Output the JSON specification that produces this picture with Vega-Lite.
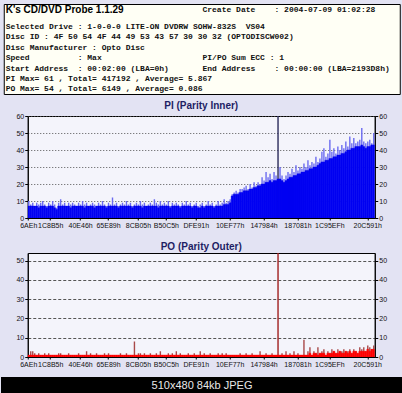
{
  "$schema": "https://vega.github.io/schema/vega-lite/v6.json",
  "background": "#E3E3F3",
  "padding": {"left": 0, "top": 3, "right": 0, "bottom": 0},
  "columns": 1,
  "center": true,
  "spacing": 5,
  "config": {
    "view": {"stroke": "#000", "fill": "#F4F4FB", "strokeWidth": 1},
    "axis": {"labelFont": "Liberation Sans", "labelFontSize": 7, "labelColor": "#111", "tickColor": "#000", "domainColor": "#000", "tickSize": 3, "labelPadding": 1},
    "title": {"font": "Liberation Sans", "fontSize": 10, "fontWeight": "bold", "color": "#1E1E64", "offset": 1, "anchor": "middle"}
  },
  "datasets": {
    "hdr": [
      {"line": 0, "part": "title", "text": "K's CD/DVD Probe 1.1.29"},
      {"line": 0, "part": "top", "text": "Create Date\u00a0\u00a0\u00a0\u00a0: 2004-07-09 01:02:28"},
      {"line": 1, "part": "info", "text": "Selected Drive : 1-0-0-0 LITE-ON DVDRW SOHW-832S\u00a0\u00a0VS04"},
      {"line": 2, "part": "info", "text": "Disc ID : 4F 50 54 4F 44 49 53 43 57 30 30 32 (OPTODISCW002)"},
      {"line": 3, "part": "info", "text": "Disc Manufacturer : Opto Disc"},
      {"line": 4, "part": "info", "text": "Speed\u00a0\u00a0\u00a0\u00a0\u00a0\u00a0\u00a0\u00a0\u00a0\u00a0: Max\u00a0\u00a0\u00a0\u00a0\u00a0\u00a0\u00a0\u00a0\u00a0\u00a0\u00a0\u00a0\u00a0\u00a0\u00a0\u00a0\u00a0\u00a0\u00a0\u00a0\u00a0PI/PO Sum ECC : 1"},
      {"line": 5, "part": "info", "text": "Start Address\u00a0\u00a0: 00:02:00 (LBA=0h)\u00a0\u00a0\u00a0\u00a0\u00a0\u00a0\u00a0End Address\u00a0\u00a0\u00a0\u00a0: 00:00:00 (LBA=2193D8h)"},
      {"line": 6, "part": "info", "text": "PI Max= 61 , Total= 417192 , Average= 5.867"},
      {"line": 7, "part": "info", "text": "PO Max= 54 , Total= 6149 , Average= 0.086"}
    ],
    "d": [
      {"s":0,"pi":10,"pib":7,"po":1,"pob":1},{"s":1,"pi":8,"pib":7,"po":3,"pob":1},{"s":2,"pi":9,"pib":7,"po":3,"pob":1},{"s":3,"pi":7,"pib":7,"po":2,"pob":1},{"s":4,"pi":9,"pib":7,"po":1,"pob":1},
      {"s":5,"pi":8,"pib":6,"po":2,"pob":1},{"s":6,"pi":9,"pib":7,"po":1,"pob":1},{"s":7,"pi":10,"pib":7,"po":1,"pob":1},{"s":8,"pi":8,"pib":7,"po":2,"pob":1},{"s":9,"pi":7,"pib":6,"po":1,"pob":1},
      {"s":10,"pi":9,"pib":7,"po":2,"pob":1},{"s":11,"pi":8,"pib":7,"po":1,"pob":1},{"s":12,"pi":10,"pib":7,"po":1,"pob":1},{"s":13,"pi":8,"pib":6,"po":1,"pob":1},{"s":14,"pi":6,"pib":5,"po":1,"pob":1},
      {"s":15,"pi":9,"pib":7,"po":2,"pob":1},{"s":16,"pi":11,"pib":7,"po":2,"pob":1},{"s":17,"pi":8,"pib":7,"po":1,"pob":1},{"s":18,"pi":9,"pib":7,"po":1,"pob":1},{"s":19,"pi":7,"pib":7,"po":1,"pob":1},
      {"s":20,"pi":9,"pib":7,"po":2,"pob":1},{"s":21,"pi":8,"pib":6,"po":1,"pob":1},{"s":22,"pi":9,"pib":7,"po":1,"pob":1},{"s":23,"pi":8,"pib":7,"po":1,"pob":1},{"s":24,"pi":7,"pib":7,"po":1,"pob":1},
      {"s":25,"pi":9,"pib":7,"po":2,"pob":1},{"s":26,"pi":8,"pib":7,"po":1,"pob":1},{"s":27,"pi":10,"pib":7,"po":1,"pob":1},{"s":28,"pi":8,"pib":6,"po":1,"pob":1},{"s":29,"pi":9,"pib":7,"po":3,"pob":1},
      {"s":30,"pi":7,"pib":7,"po":1,"pob":1},{"s":31,"pi":8,"pib":7,"po":2,"pob":1},{"s":32,"pi":9,"pib":7,"po":1,"pob":1},{"s":33,"pi":8,"pib":6,"po":1,"pob":1},{"s":34,"pi":7,"pib":7,"po":2,"pob":1},
      {"s":35,"pi":9,"pib":7,"po":1,"pob":1},{"s":36,"pi":8,"pib":7,"po":1,"pob":1},{"s":37,"pi":10,"pib":7,"po":1,"pob":1},{"s":38,"pi":8,"pib":7,"po":2,"pob":1},{"s":39,"pi":7,"pib":6,"po":1,"pob":1},
      {"s":40,"pi":9,"pib":7,"po":2,"pob":1},{"s":41,"pi":8,"pib":7,"po":1,"pob":1},{"s":42,"pi":12,"pib":7,"po":1,"pob":1},{"s":43,"pi":8,"pib":7,"po":1,"pob":1},{"s":44,"pi":9,"pib":7,"po":1,"pob":1},
      {"s":45,"pi":7,"pib":6,"po":1,"pob":1},{"s":46,"pi":8,"pib":7,"po":2,"pob":1},{"s":47,"pi":9,"pib":7,"po":1,"pob":1},{"s":48,"pi":8,"pib":7,"po":1,"pob":1},{"s":49,"pi":10,"pib":7,"po":2,"pob":1},
      {"s":50,"pi":8,"pib":7,"po":1,"pob":1},{"s":51,"pi":9,"pib":7,"po":1,"pob":1},{"s":52,"pi":7,"pib":6,"po":1,"pob":1},{"s":53,"pi":8,"pib":7,"po":8,"pob":1},{"s":54,"pi":9,"pib":7,"po":1,"pob":1},
      {"s":55,"pi":8,"pib":7,"po":2,"pob":1},{"s":56,"pi":10,"pib":7,"po":2,"pob":1},{"s":57,"pi":8,"pib":6,"po":1,"pob":1},{"s":58,"pi":9,"pib":7,"po":2,"pob":1},{"s":59,"pi":7,"pib":7,"po":1,"pob":1},
      {"s":60,"pi":8,"pib":7,"po":1,"pob":1},{"s":61,"pi":9,"pib":7,"po":2,"pob":1},{"s":62,"pi":8,"pib":7,"po":1,"pob":1},{"s":63,"pi":11,"pib":7,"po":1,"pob":1},{"s":64,"pi":9,"pib":7,"po":2,"pob":1},
      {"s":65,"pi":8,"pib":6,"po":1,"pob":1},{"s":66,"pi":10,"pib":7,"po":3,"pob":1},{"s":67,"pi":8,"pib":7,"po":1,"pob":1},{"s":68,"pi":9,"pib":7,"po":1,"pob":1},{"s":69,"pi":8,"pib":7,"po":1,"pob":1},
      {"s":70,"pi":10,"pib":7,"po":2,"pob":1},{"s":71,"pi":7,"pib":6,"po":1,"pob":1},{"s":72,"pi":9,"pib":7,"po":2,"pob":1},{"s":73,"pi":8,"pib":7,"po":1,"pob":1},{"s":74,"pi":9,"pib":7,"po":3,"pob":1},
      {"s":75,"pi":8,"pib":7,"po":1,"pob":1},{"s":76,"pi":7,"pib":6,"po":2,"pob":1},{"s":77,"pi":9,"pib":7,"po":1,"pob":1},{"s":78,"pi":8,"pib":7,"po":1,"pob":1},{"s":79,"pi":10,"pib":7,"po":1,"pob":1},
      {"s":80,"pi":8,"pib":7,"po":2,"pob":1},{"s":81,"pi":9,"pib":7,"po":1,"pob":1},{"s":82,"pi":7,"pib":6,"po":1,"pob":1},{"s":83,"pi":8,"pib":7,"po":2,"pob":1},{"s":84,"pi":9,"pib":7,"po":1,"pob":1},
      {"s":85,"pi":7,"pib":6,"po":1,"pob":1},{"s":86,"pi":8,"pib":6,"po":3,"pob":1},{"s":87,"pi":9,"pib":7,"po":1,"pob":1},{"s":88,"pi":7,"pib":6,"po":2,"pob":1},{"s":89,"pi":8,"pib":7,"po":1,"pob":1},
      {"s":90,"pi":10,"pib":7,"po":1,"pob":1},{"s":91,"pi":8,"pib":7,"po":2,"pob":1},{"s":92,"pi":9,"pib":7,"po":1,"pob":1},{"s":93,"pi":7,"pib":6,"po":1,"pob":1},{"s":94,"pi":8,"pib":7,"po":1,"pob":1},
      {"s":95,"pi":10,"pib":7,"po":2,"pob":1},{"s":96,"pi":8,"pib":7,"po":1,"pob":1},{"s":97,"pi":9,"pib":7,"po":2,"pob":1},{"s":98,"pi":11,"pib":8,"po":1,"pob":1},{"s":99,"pi":9,"pib":8,"po":2,"pob":1},
      {"s":100,"pi":10,"pib":8,"po":1,"pob":1},{"s":101,"pi":11,"pib":9,"po":1,"pob":1},{"s":102,"pi":14,"pib":13,"po":1,"pob":1},{"s":103,"pi":15,"pib":14,"po":1,"pob":1},{"s":104,"pi":16,"pib":14,"po":1,"pob":1},
      {"s":105,"pi":15,"pib":14,"po":1,"pob":1},{"s":106,"pi":17,"pib":15,"po":2,"pob":1},{"s":107,"pi":17,"pib":15,"po":1,"pob":1},{"s":108,"pi":18,"pib":16,"po":1,"pob":1},{"s":109,"pi":19,"pib":16,"po":2,"pob":1},
      {"s":110,"pi":17,"pib":16,"po":1,"pob":1},{"s":111,"pi":20,"pib":17,"po":1,"pob":1},{"s":112,"pi":18,"pib":17,"po":2,"pob":1},{"s":113,"pi":21,"pib":18,"po":1,"pob":1},{"s":114,"pi":19,"pib":18,"po":1,"pob":1},
      {"s":115,"pi":21,"pib":19,"po":1,"pob":1},{"s":116,"pi":20,"pib":19,"po":3,"pob":1},{"s":117,"pi":24,"pib":20,"po":1,"pob":1},{"s":118,"pi":22,"pib":20,"po":1,"pob":1},{"s":119,"pi":27,"pib":21,"po":2,"pob":1},
      {"s":120,"pi":24,"pib":21,"po":1,"pob":1},{"s":121,"pi":26,"pib":22,"po":1,"pob":1},{"s":122,"pi":23,"pib":21,"po":2,"pob":1},{"s":123,"pi":27,"pib":22,"po":1,"pob":1},{"s":124,"pi":25,"pib":22,"po":1,"pob":1},
      {"s":125,"pi":61,"pib":23,"po":54,"pob":1},{"s":126,"pi":30,"pib":23,"po":1,"pob":1},{"s":127,"pi":25,"pib":22,"po":2,"pob":1},{"s":128,"pi":23,"pib":21,"po":1,"pob":1},{"s":129,"pi":25,"pib":22,"po":3,"pob":1},
      {"s":130,"pi":27,"pib":23,"po":1,"pob":1},{"s":131,"pi":26,"pib":24,"po":2,"pob":1},{"s":132,"pi":29,"pib":24,"po":1,"pob":1},{"s":133,"pi":27,"pib":25,"po":3,"pob":1},{"s":134,"pi":31,"pib":25,"po":1,"pob":1},
      {"s":135,"pi":28,"pib":26,"po":2,"pob":1},{"s":136,"pi":30,"pib":26,"po":1,"pob":1},{"s":137,"pi":29,"pib":27,"po":1,"pob":1},{"s":138,"pi":32,"pib":27,"po":9,"pob":1},{"s":139,"pi":30,"pib":28,"po":1,"pob":1},
      {"s":140,"pi":34,"pib":28,"po":3,"pob":1},{"s":141,"pi":31,"pib":29,"po":5,"pob":2},{"s":142,"pi":33,"pib":29,"po":1,"pob":1},{"s":143,"pi":32,"pib":30,"po":3,"pob":2},{"s":144,"pi":36,"pib":30,"po":2,"pob":2},
      {"s":145,"pi":33,"pib":31,"po":5,"pob":1},{"s":146,"pi":35,"pib":32,"po":2,"pob":2},{"s":147,"pi":39,"pib":33,"po":3,"pob":2},{"s":148,"pi":41,"pib":33,"po":4,"pob":2},{"s":149,"pi":36,"pib":34,"po":1,"pob":1},
      {"s":150,"pi":38,"pib":34,"po":3,"pob":2},{"s":151,"pi":46,"pib":35,"po":2,"pob":2},{"s":152,"pi":39,"pib":35,"po":4,"pob":2},{"s":153,"pi":41,"pib":36,"po":3,"pob":3},{"s":154,"pi":38,"pib":36,"po":2,"pob":2},
      {"s":155,"pi":42,"pib":37,"po":4,"pob":2},{"s":156,"pi":40,"pib":37,"po":3,"pob":3},{"s":157,"pi":43,"pib":38,"po":3,"pob":2},{"s":158,"pi":41,"pib":38,"po":4,"pob":2},{"s":159,"pi":45,"pib":39,"po":3,"pob":3},
      {"s":160,"pi":42,"pib":40,"po":3,"pob":2},{"s":161,"pi":48,"pib":40,"po":4,"pob":3},{"s":162,"pi":44,"pib":41,"po":2,"pob":2},{"s":163,"pi":47,"pib":41,"po":4,"pob":3},{"s":164,"pi":44,"pib":42,"po":3,"pob":3},
      {"s":165,"pi":45,"pib":42,"po":2,"pob":2},{"s":166,"pi":46,"pib":42,"po":5,"pob":3},{"s":167,"pi":53,"pib":43,"po":4,"pob":3},{"s":168,"pi":45,"pib":42,"po":5,"pob":3},{"s":169,"pi":44,"pib":41,"po":3,"pob":3},
      {"s":170,"pi":45,"pib":42,"po":6,"pob":4},{"s":171,"pi":46,"pib":42,"po":5,"pob":3},{"s":172,"pi":44,"pib":43,"po":4,"pob":4},{"s":173,"pi":50,"pib":43,"po":6,"pob":4}
    ]
  },
  "concat": [
    {
      "width": 396,
      "height": 90,
      "view": {"fill": "#FFFFF5", "stroke": "#000", "strokeWidth": 1},
      "data": {"name": "hdr"},
      "encoding": {
        "x": {"datum": 0, "type": "quantitative", "scale": {"domain": [-0.4, 82.1], "nice": false, "zero": false}, "axis": null},
        "y": {"field": "line", "type": "quantitative", "title": null, "scale": {"domain": [-1.2, 7.45], "reverse": true, "nice": false, "zero": false}, "axis": {"orient": "right", "domain": false, "ticks": false, "labels": false, "grid": false, "minExtent": 14, "maxExtent": 14}},
        "text": {"field": "text"}
      },
      "layer": [
        {"transform": [{"filter": "datum.part == 'title'"}], "mark": {"type": "text", "align": "left", "baseline": "middle", "font": "Liberation Sans", "fontWeight": "bold", "fontSize": 10, "dy": -6, "color": "#000"}},
        {"transform": [{"filter": "datum.part == 'top'"}], "mark": {"type": "text", "align": "left", "baseline": "middle", "font": "Liberation Mono", "fontWeight": "bold", "fontSize": 8, "dy": -6, "color": "#111"},
         "encoding": {"x": {"datum": 41, "type": "quantitative"}}},
        {"transform": [{"filter": "datum.part == 'info'"}], "mark": {"type": "text", "align": "left", "baseline": "middle", "font": "Liberation Mono", "fontWeight": "bold", "fontSize": 8, "color": "#111"}}
      ]
    },
    {
      "width": 347,
      "height": 102,
      "title": {"text": "PI (Parity Inner)"},
      "data": {"name": "d"},
      "encoding": {
        "x": {"field": "s", "type": "ordinal", "title": null, "scale": {"paddingInner": 0, "paddingOuter": 0},
          "axis": {"values": [0, 11, 26, 40, 55, 69, 84, 101, 118, 135, 151, 170], "labelAngle": 0, "labelOverlap": false, "tickSize": 2, "minExtent": 17, "maxExtent": 17,
            "labelExpr": "datum.value == 0 ? '6AEh' : datum.value == 11 ? '1C8B5h' : datum.value == 26 ? '40E46h' : datum.value == 40 ? '65E89h' : datum.value == 55 ? '8CB05h' : datum.value == 69 ? 'B50C5h' : datum.value == 84 ? 'DFE91h' : datum.value == 101 ? '10EF77h' : datum.value == 118 ? '147984h' : datum.value == 135 ? '187081h' : datum.value == 151 ? '1C95EFh' : datum.value == 170 ? '20C591h' : ''"}}
      },
      "layer": [
        {"mark": {"type": "bar", "width": {"band": 0.7}, "clip": true},
         "encoding": {
           "y": {"field": "pi", "type": "quantitative", "title": null, "scale": {"domain": [0, 60], "nice": false}, "axis": {"values": [0, 10, 20, 30, 40, 50, 60], "grid": true, "gridDash": [1, 2], "gridColor": "#555", "minExtent": 27, "maxExtent": 27}},
           "color": {"condition": {"test": "datum.pi > 55", "value": "#2A2A5A"}, "value": "#6B6BF0"}
         }},
        {"mark": {"type": "bar", "color": "#0000F2", "stroke": "#0000F2", "strokeWidth": 0.4, "clip": true},
         "encoding": {
           "y": {"field": "pib", "type": "quantitative", "title": null, "axis": {"orient": "right", "values": [0, 10, 20, 30, 40, 50, 60], "grid": false, "minExtent": 15, "maxExtent": 15}}
         }}
      ],
      "resolve": {"axis": {"y": "independent"}}
    },
    {
      "width": 347,
      "height": 104,
      "title": {"text": "PO (Parity Outer)"},
      "data": {"name": "d"},
      "encoding": {
        "x": {"field": "s", "type": "ordinal", "title": null, "scale": {"paddingInner": 0, "paddingOuter": 0},
          "axis": {"values": [0, 11, 26, 40, 55, 69, 84, 101, 118, 135, 151, 170], "labelAngle": 0, "labelOverlap": false, "tickSize": 2, "minExtent": 14, "maxExtent": 14,
            "labelExpr": "datum.value == 0 ? '6AEh' : datum.value == 11 ? '1C8B5h' : datum.value == 26 ? '40E46h' : datum.value == 40 ? '65E89h' : datum.value == 55 ? '8CB05h' : datum.value == 69 ? 'B50C5h' : datum.value == 84 ? 'DFE91h' : datum.value == 101 ? '10EF77h' : datum.value == 118 ? '147984h' : datum.value == 135 ? '187081h' : datum.value == 151 ? '1C95EFh' : datum.value == 170 ? '20C591h' : ''"}}
      },
      "layer": [
        {"mark": {"type": "bar", "width": {"band": 0.7}, "clip": true},
         "encoding": {
           "y": {"field": "po", "type": "quantitative", "title": null, "scale": {"domain": [0, 54], "nice": false}, "axis": {"values": [0, 10, 20, 30, 40, 50], "grid": true, "gridDash": [3, 2], "gridColor": "#555", "minExtent": 27, "maxExtent": 27}},
           "color": {"condition": {"test": "datum.po > 30", "value": "#A01E1E"}, "value": "#A84848"}
         }},
        {"mark": {"type": "bar", "color": "#FF0000", "stroke": "#FF0000", "strokeWidth": 0.4, "clip": true},
         "encoding": {
           "y": {"field": "pob", "type": "quantitative", "title": null, "axis": {"orient": "right", "values": [0, 10, 20, 30, 40, 50], "grid": false, "minExtent": 15, "maxExtent": 15}}
         }}
      ],
      "resolve": {"axis": {"y": "independent"}}
    },
    {
      "width": 402,
      "height": 18,
      "view": {"fill": "#000", "stroke": null},
      "data": {"values": [{"caption": "510x480 84kb JPEG"}]},
      "mark": {"type": "text", "font": "Liberation Sans", "fontSize": 11, "color": "#E8E8E8", "baseline": "middle"},
      "encoding": {
        "text": {"field": "caption"},
        "y": {"datum": 0, "type": "quantitative", "scale": {"domain": [-1, 1]}, "axis": {"orient": "right", "domain": false, "ticks": false, "labels": false, "grid": false, "minExtent": 14, "maxExtent": 14}}
      }
    }
  ]
}
